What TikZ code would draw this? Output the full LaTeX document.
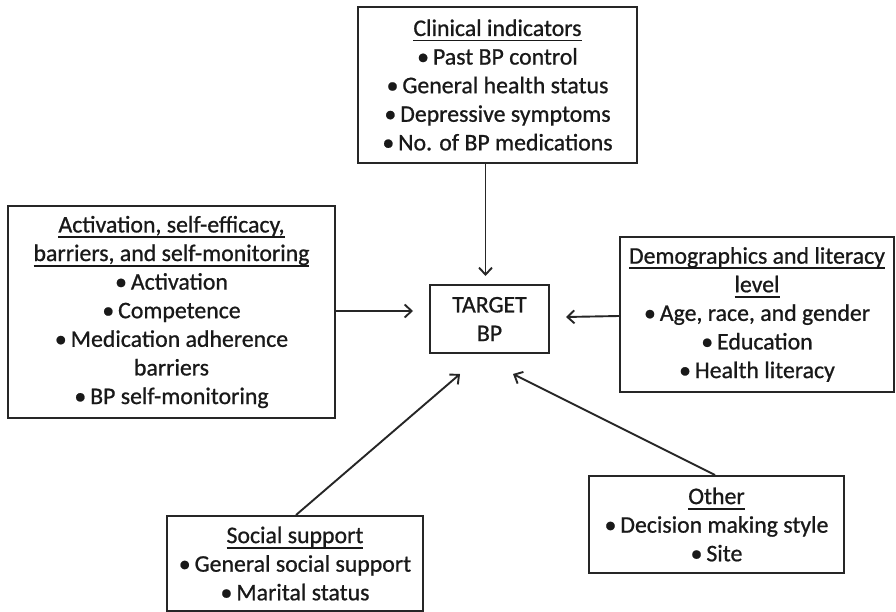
\documentclass[tikz,border=0pt]{standalone}
\usepackage{fontspec}
\setmainfont[FakeBold=0.8]{Carlito}
\usetikzlibrary{arrows.meta,calc}
\newcommand\hdrline[1]{\setbox0\hbox{#1}\rlap{\rule[-5.5pt]{\wd0}{1.7pt}}\box0}
\tikzset{
  box/.style={draw=black!85, line width=2pt, inner sep=0pt, align=center,
    font=\fontsize{23.8}{28.6}\selectfont, text=black!90},
  arr/.style={draw=black!85, line width=1.9pt, -{Straight Barb[length=7pt,width=13pt,line width=1.9pt]}}
}
\begin{document}
\begin{tikzpicture}[x=1pt,y=-1pt]
\useasboundingbox[fill=white] (0,0) rectangle (896,612);

\node[box, minimum width=279pt, minimum height=156pt] (clin) at (497.5,85)
  {\hdrline{Clinical indicators}\\ •\,Past BP control\\ •\,General health status\\ •\,Depressive symptoms\\ •\,No. of BP medications};

\node[box, minimum width=327pt, minimum height=212pt] (act) at (171.5,312)
  {\hdrline{Activation, self-efficacy,}\\ \hdrline{barriers, and self-monitoring}\\ •\,Activation\\ •\,Competence\\ •\,Medication adherence\\ barriers\\ •\,BP self-monitoring};

\node[box, minimum width=119pt, minimum height=68pt] (tgt) at (489.5,319)
  {TARGET\\ BP};

\node[box, minimum width=274pt, minimum height=155pt] (demo) at (757,314.5)
  {\hdrline{Demographics and literacy}\\ \hdrline{level}\\ •\,Age, race, and gender\\ •\,Education\\ •\,Health literacy};

\node[box, minimum width=256pt, minimum height=95pt] (soc) at (295,563.5)
  {\hdrline{Social support}\\ •\,General social support\\ •\,Marital status};

\node[box, minimum width=255pt, minimum height=97pt] (oth) at (716.5,524.5)
  {\hdrline{Other}\\ •\,Decision making style\\ •\,Site};

\coordinate (t1) at (485.5,276);
\coordinate (t2) at (413,311);
\coordinate (t3) at (566,317);
\coordinate (t4) at (460,374);
\coordinate (t5) at (513,374);

\draw[arr] (clin.south -| t1) -- (t1);
\draw[arr] (act.east |- t2) -- (t2);
\draw[arr] ($(demo.west |- t3)+(0,-1)$) -- (t3);
\draw[arr] ($(soc.north)+(1,0)$) -- (t4);
\draw[arr] ($(oth.north)+(-1.5,0)$) -- (t5);
\end{tikzpicture}
\end{document}
